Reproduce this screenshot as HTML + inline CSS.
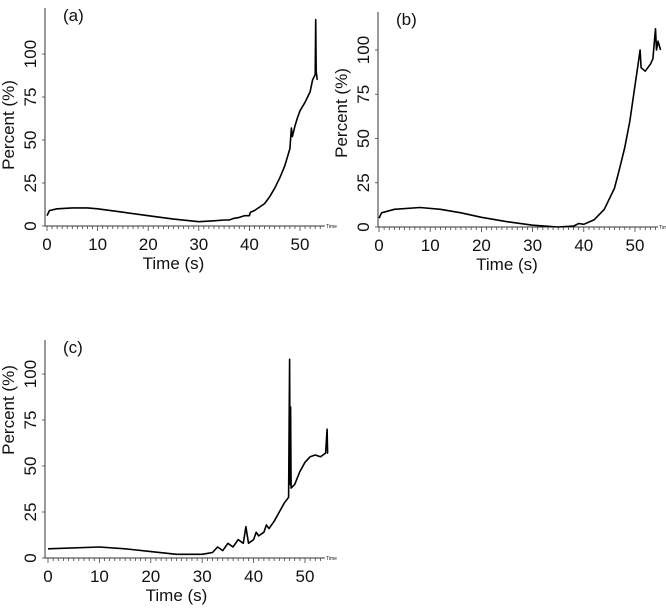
<!DOCTYPE html>
<html><head><meta charset="utf-8"><style>
html,body{margin:0;padding:0;background:#fff;width:666px;height:615px;overflow:hidden}
svg{position:absolute;left:0;top:0}
text{font-family:"Liberation Sans",sans-serif;fill:#111}
</style></head><body>
<svg id="chart" width="666" height="615"></svg>
<script>
// Panel (a)
const tA=[0,0.5,2,5,8,10,15,20,25,30,33,35,36,37,38,39,40,40.2,41,42,43,44,45,46,47,47.8,48,48.3,48.5,49,49.5,50,51,51.5,52,52.5,53,53.1,53.2,53.4];
const vA=[6,9,10,10.5,10.5,10,8,6,4,2.5,3,3.5,3.5,4.5,5,6,6,8,9,11,13,17,22,28,35,43,45,57,52,58,63,67,72,75,78,85,88,120,90,85];
// Panel (b)
const tB=[0,0.5,3,8,12,16,20,25,30,35,38,39,40,42,44,46,47,48,49,50,50.5,51,51.2,52,53,53.5,54,54.2,54.5,55];
const vB=[5,8,10,11,10,8,5.5,3,1,0,0.5,2,1.5,4,10,22,33,45,60,80,90,100,90,88,92,95,112,100,105,100];
// Panel (c)
const tC=[0,10,15,20,25,30,32,33,34,35,36,37,38,38.5,39,40,40.5,41,42,42.5,43,44,45,46,46.8,47,47.1,47.2,47.3,48,49,50,51,52,53,54,54.3,54.4,54.5];
const vC=[5,6,5,3.5,2,2,3,6,4,8,6,10,8,17,8,10,14,12,14,18,16,20,25,30,33,108,40,82,38,40,47,52,55,56,55,57,70,57,57];
const xTicks=[0,10,20,30,40,50];
const yTicks=[0,25,50,75,100];

const NS='http://www.w3.org/2000/svg';
const svg=document.getElementById('chart');
function mk(tag,attrs,parent){const e=document.createElementNS(NS,tag);for(const k in attrs)e.setAttribute(k,attrs[k]);(parent||svg).appendChild(e);return e;}

function panel(id,label,ax,top,x0,x50,y0,y100,xEnd,titleY,xs,ys){
  const g=mk('g',{});
  
  
  const X=t=>x0+(x50-x0)*t/50;
  const Y=v=>y0-(y0-y100)*v/100;
  const ya=mk('line',{x1:ax,y1:top,x2:ax,y2:y0,stroke:'#333','stroke-width':1},g);
  
  
  const xa=mk('line',{x1:ax,y1:y0,x2:xEnd,y2:y0,stroke:'#333','stroke-width':1},g);
  
  
  for(let t=0;X(t)<=xEnd;t++){
    mk('line',{x1:X(t),y1:y0,x2:X(t),y2:y0+(t%10===0?5:3),stroke:'#444','stroke-width':0.8},g);
  }
  xTicks.forEach(t=>{
    const tx=mk('text',{x:X(t),y:y0+24,'font-size':17,'text-anchor':'middle'},g);
    tx.textContent=t;
    
    
  });
  yTicks.forEach(v=>{
    mk('line',{x1:ax-3,y1:Y(v),x2:ax,y2:Y(v),stroke:'#444','stroke-width':0.8},g);
    const tx=mk('text',{x:0,y:0,'font-size':17,'text-anchor':'middle',transform:`translate(${ax-9},${Y(v)}) rotate(-90)`},g);
    tx.textContent=v;
    
    
  });
  const yt=mk('text',{x:0,y:0,'font-size':17,'text-anchor':'middle',transform:`translate(${ax-31},${titleY}) rotate(-90)`},g);
  yt.textContent='Percent (%)';
  
  
  const xt=mk('text',{x:(x0+x50)/2,y:y0+43,'font-size':17,'text-anchor':'middle'},g);
  xt.textContent='Time (s)';
  
  
  const tm=mk('text',{x:xEnd+1,y:y0+2,'font-size':5,fill:'#666'},g);
  tm.textContent='Time';
  
  
  const pl=mk('text',{x:ax+18,y:top+13,'font-size':17},g);
  pl.textContent=label;
  
  
  let d='';
  xs.forEach((t,i)=>{d+=(i?'L':'M')+X(t).toFixed(1)+' '+Y(ys[i]).toFixed(1);});
  const p=mk('path',{d:d,fill:'none',stroke:'#000','stroke-width':1.6,'stroke-linejoin':'round'},g);
  
  
}
panel('a','(a)',45,8,47,300,226,54,325,125,tA,vA);
panel('b','(b)',378,12,379,635,227,50,658,113,tB,vB);
panel('c','(c)',45,340,48,305,558,374,325,410,tC,vC);
</script>
</body></html>
